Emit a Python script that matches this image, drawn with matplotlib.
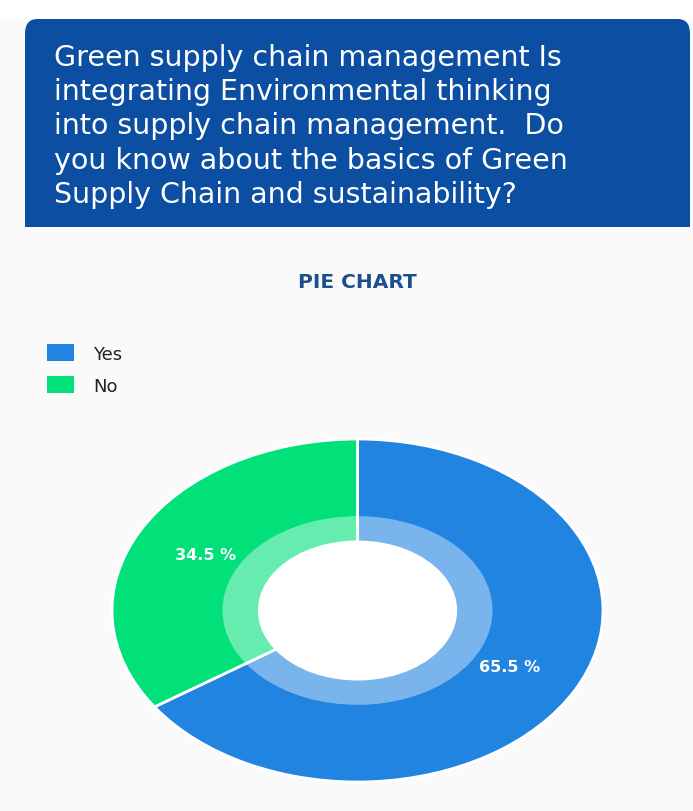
import matplotlib
matplotlib.use("Agg")
import matplotlib.pyplot as plt
from matplotlib.patches import FancyBboxPatch, Rectangle, Ellipse, Wedge

# ---- data ----
categories = ["Yes", "No"]
values = [65.5, 34.5]
outer_colors = ["#2184E0", "#02E07A"]
header_lines = ["Green supply chain management Is",
                "integrating Environmental thinking",
                "into supply chain management.  Do",
                "you know about the basics of Green",
                "Supply Chain and sustainability?"]
chart_title = "PIE CHART"

W, H = 693, 812
fig = plt.figure(figsize=(W / 100, H / 100), dpi=100)
fig.patch.set_facecolor("#FAFAFA")

def fx(x):
    return x / W

def fy(y):
    return 1 - y / H

# white strip on top
fig.patches.append(Rectangle((0, fy(20)), 1, 20 / H, transform=fig.transFigure,
                             facecolor="white", edgecolor="none", zorder=0))

# header box (rounded top corners)
box_col = "#0B4EA2"
fig.patches.append(FancyBboxPatch((fx(25), fy(228)), (690 - 25) / W, (228 - 20) / H,
                                  boxstyle="round,pad=0,rounding_size=0.018",
                                  transform=fig.transFigure, facecolor=box_col,
                                  edgecolor="none", zorder=1))
fig.patches.append(Rectangle((fx(25), fy(228)), (690 - 25) / W, 40 / H,
                             transform=fig.transFigure, facecolor=box_col,
                             edgecolor="none", zorder=1))

line_step = 34.25
for i, line in enumerate(header_lines):
    fig.text(fx(54), fy(66 + i * line_step), line, color="white", fontsize=20.5,
             family="DejaVu Sans", ha="left", va="baseline", zorder=2)

fig.text(fx(357), fy(283), chart_title, color="#1B4F8F", fontsize=14.5,
         family="DejaVu Sans", fontweight="bold", ha="center", va="center")

# donut axes spanning the ellipse bbox
ax = fig.add_axes([fx(112), fy(783), (603 - 112) / W, (783 - 440) / H])
wedges, texts, autotexts = ax.pie(
    values, colors=outer_colors, startangle=90, counterclock=False, radius=1.0,
    autopct="%.1f %%", pctdistance=0.70,
    wedgeprops=dict(width=0.60, edgecolor="white", linewidth=2),
    textprops=dict(color="white", fontsize=11.5, fontweight="bold",
                   family="DejaVu Sans"))
# lighter inner band: translucent white annulus over the wedges
ax.add_patch(Wedge((0, 0), 0.55, 0, 360, width=0.15, facecolor="white",
                   alpha=0.4, edgecolor="none", zorder=4))
ax.add_patch(Ellipse((0, 0), 0.8, 0.8, facecolor="white", edgecolor="none", zorder=5))
ax.set_aspect("auto")
ax.set_xlim(-1, 1)
ax.set_ylim(-1, 1)
ax.axis("off")

leg = fig.legend(wedges, categories, loc="upper left",
                 bbox_to_anchor=(fx(40), fy(338)), frameon=False,
                 prop=dict(family="DejaVu Sans", size=13),
                 handlelength=1.5, handleheight=1.05,
                 handletextpad=1.05, labelspacing=0.75, borderaxespad=0)
for h in leg.legend_handles:
    h.set_edgecolor("none")
for t in leg.get_texts():
    t.set_color("#222222")

fig.savefig("out.png", dpi=100, facecolor=fig.get_facecolor())
